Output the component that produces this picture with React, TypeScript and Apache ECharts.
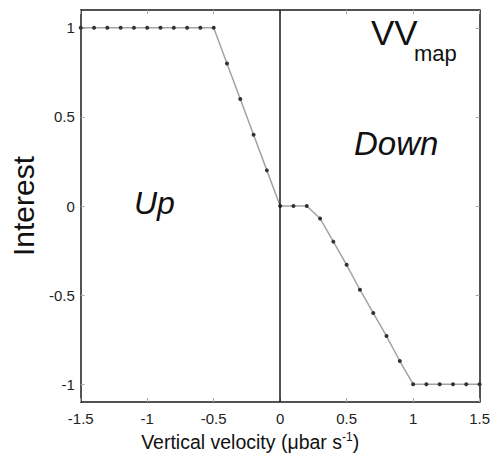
import React, { useEffect, useRef } from "react";
import * as echarts from "echarts";

const velocity = [
  -1.5, -1.4, -1.3, -1.2, -1.1, -1.0, -0.9, -0.8, -0.7, -0.6, -0.5,
  -0.4, -0.3, -0.2, -0.1, 0.0,
  0.1, 0.2, 0.3, 0.4, 0.5, 0.6, 0.7, 0.8, 0.9, 1.0,
  1.1, 1.2, 1.3, 1.4, 1.5,
];
const interest = [
  1, 1, 1, 1, 1, 1, 1, 1, 1, 1, 1,
  0.8, 0.6, 0.4, 0.2, 0,
  0, 0, -0.07, -0.2, -0.33, -0.47, -0.6, -0.73, -0.87, -1,
  -1, -1, -1, -1, -1,
];
const yTicks = [-1, -0.5, 0, 0.5, 1];
const xTicks = [-1.5, -1, -0.5, 0, 0.5, 1, 1.5];

const FONT = "'Liberation Sans', Arial, Helvetica, sans-serif";

export default function App() {
  const ref = useRef<HTMLDivElement>(null);
  useEffect(() => {
    if (!ref.current) return;
    const chart = echarts.init(ref.current, undefined, { renderer: "svg" });
    const data = velocity.map((v, i) => [v, interest[i]]);
    const frameLine = { show: true, onZero: false, lineStyle: { color: "#1a1a1a", width: 1.5 } };
    chart.setOption({
      animation: false,
      backgroundColor: "#ffffff",
      grid: { left: 78, right: 12, top: 10, bottom: 60 },
      xAxis: [
        {
          type: "value",
          min: -1.5,
          max: 1.5,
          interval: 0.5,
          position: "bottom",
          axisLine: frameLine,
          axisTick: { show: true, inside: true, length: 4, lineStyle: { color: "#aaaaaa" } },
          axisLabel: {
            show: true,
            margin: 9,
            fontSize: 15,
            color: "#222",
            fontFamily: FONT,
            customValues: xTicks,
          },
          splitLine: { show: false },
          name: "{a|Vertical velocity (μbar s}{b|-1}{a|)}",
          nameLocation: "middle",
          nameGap: 26,
          nameTextStyle: {
            padding: [0, 60, 0, 0],
            rich: {
              a: { fontSize: 19.5, color: "#111", fontFamily: FONT },
              b: { fontSize: 12, color: "#111", fontFamily: FONT, verticalAlign: "top", padding: [0, 0, 10, 0] },
            },
          },
        },
        {
          type: "value",
          min: -1.5,
          max: 1.5,
          interval: 0.5,
          position: "top",
          axisLine: frameLine,
          axisTick: { show: true, inside: true, length: 4, lineStyle: { color: "#aaaaaa" } },
          axisLabel: { show: false },
          splitLine: { show: false },
        },
      ],
      yAxis: [
        {
          type: "value",
          min: -1.1,
          max: 1.1,
          position: "left",
          axisLine: frameLine,
          axisTick: { show: true, inside: true, length: 4, lineStyle: { color: "#aaaaaa" }, customValues: yTicks },
          axisLabel: {
            show: true,
            margin: 6,
            fontSize: 15,
            color: "#222",
            fontFamily: FONT,
            customValues: yTicks,
          },
          splitLine: { show: false },
          name: "Interest",
          nameLocation: "middle",
          nameGap: 38,
          nameTextStyle: { fontSize: 30, color: "#111", fontFamily: FONT },
        },
        {
          type: "value",
          min: -1.1,
          max: 1.1,
          position: "right",
          axisLine: frameLine,
          axisTick: { show: true, inside: true, length: 4, lineStyle: { color: "#aaaaaa" }, customValues: yTicks },
          axisLabel: { show: false },
          splitLine: { show: false },
        },
      ],
      series: [
        {
          type: "line",
          xAxisIndex: 0,
          yAxisIndex: 0,
          data,
          symbol: "circle",
          symbolSize: 4,
          itemStyle: { color: "#333333" },
          lineStyle: { color: "#a3a3a3", width: 1.5 },
          markLine: {
            silent: true,
            symbol: ["none", "none"],
            label: { show: false },
            lineStyle: { color: "#1a1a1a", width: 1.5, type: "solid" },
            data: [{ xAxis: 0 }],
          },
        },
      ],
      graphic: [
        {
          type: "text",
          left: 134,
          top: 187,
          style: { text: "Up", fontSize: 32, fontStyle: "italic", fill: "#111", fontFamily: FONT },
        },
        {
          type: "text",
          left: 354,
          top: 127,
          style: { text: "Down", fontSize: 33, fontStyle: "italic", fill: "#111", fontFamily: FONT },
        },
        {
          type: "text",
          left: 371,
          top: 15,
          style: { text: "VV", fontSize: 35, fill: "#111", fontFamily: FONT },
        },
        {
          type: "text",
          left: 414,
          top: 42,
          style: { text: "map", fontSize: 22, fill: "#111", fontFamily: FONT },
        },
      ],
    });
    return () => chart.dispose();
  }, []);
  return <div ref={ref} style={{ width: 493, height: 462, position: "absolute", left: 0, top: 0 }} />;
}
